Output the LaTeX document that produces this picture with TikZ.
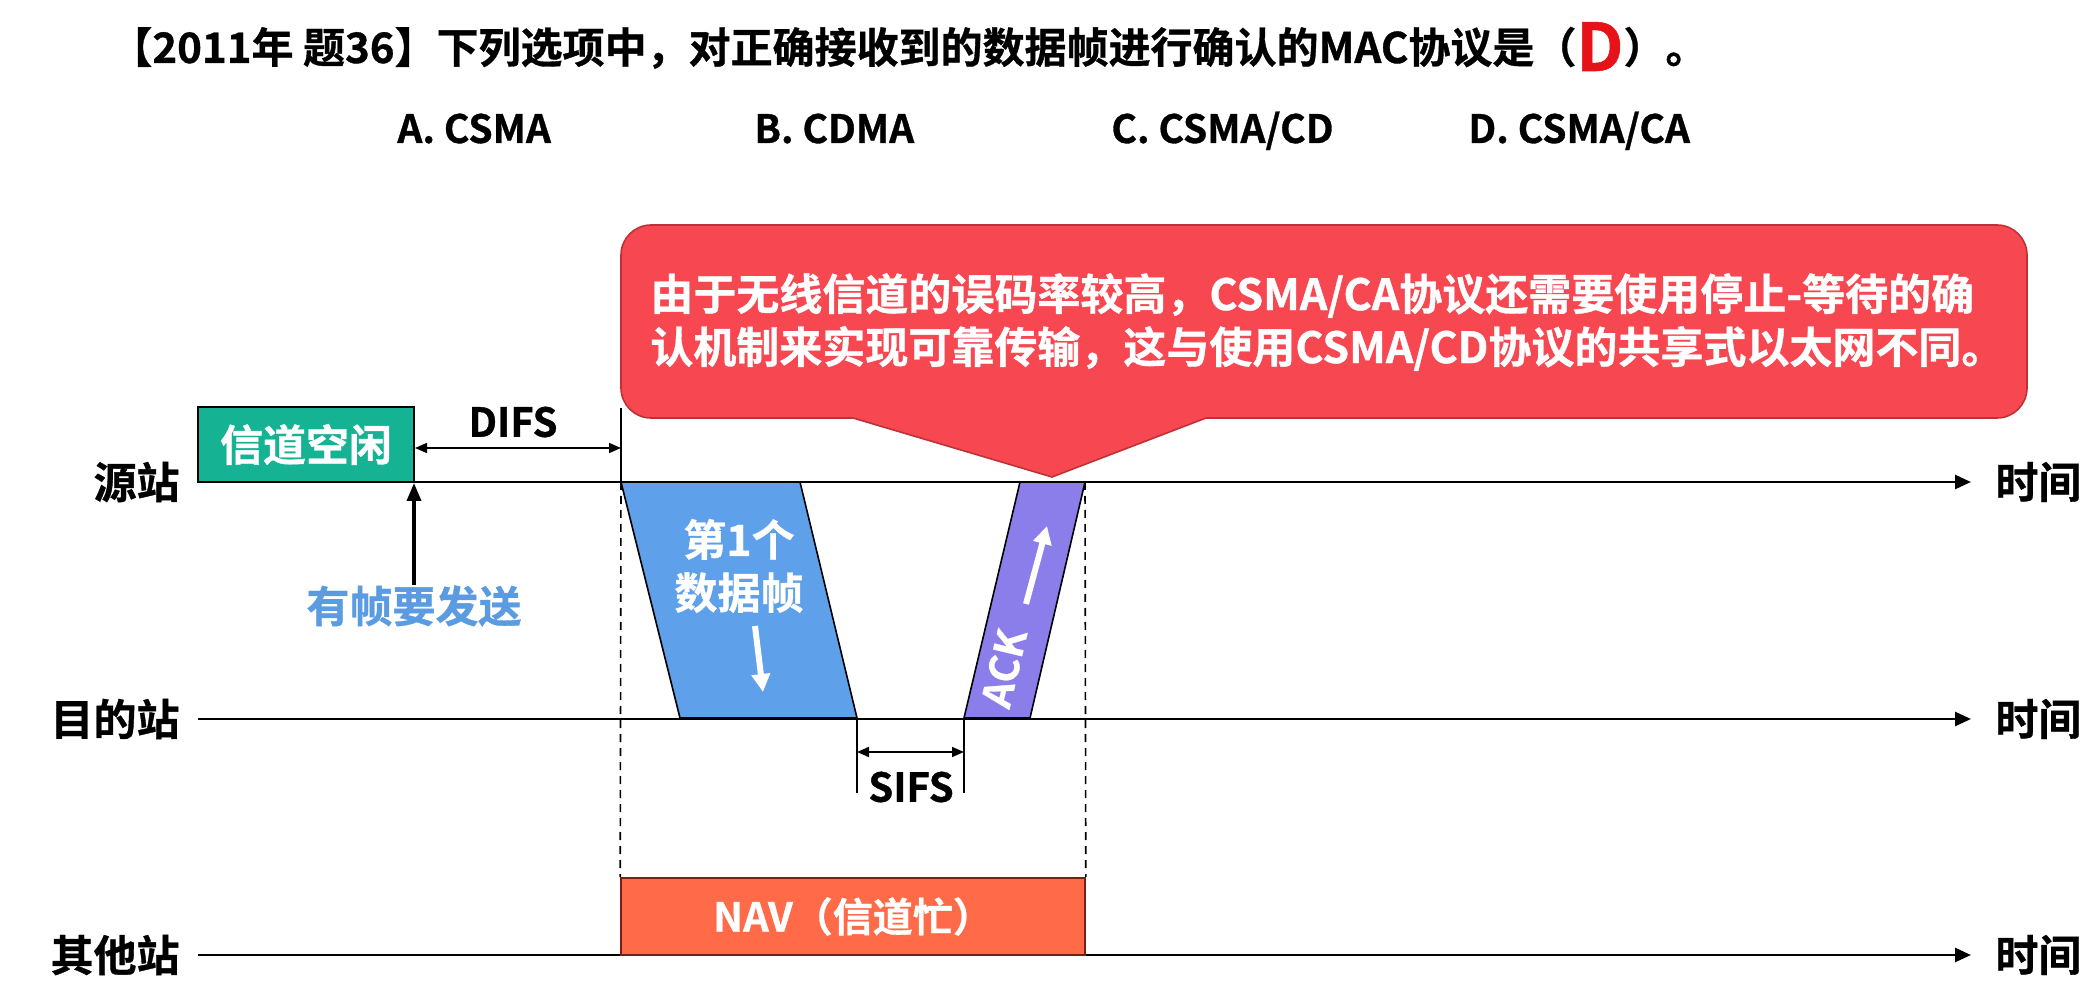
\documentclass[tikz,border=0pt]{standalone}
\usepackage{fontspec}
\setmainfont{Noto Sans CJK SC}[BoldFont={Noto Sans CJK SC Bold},BoldFeatures={FakeBold=0.8}]
\usetikzlibrary{arrows.meta}
\definecolor{idlegreen}{RGB}{22,178,148}
\definecolor{sendblue}{RGB}{90,155,225}
\definecolor{datablue}{RGB}{94,160,234}
\definecolor{ackpurple}{RGB}{140,126,234}
\definecolor{notered}{RGB}{247,72,82}
\definecolor{noteedge}{RGB}{190,50,55}
\definecolor{navorange}{RGB}{255,106,72}
\definecolor{navedge}{RGB}{120,30,20}
\definecolor{answerred}{RGB}{230,18,24}

\begin{document}
\begin{tikzpicture}[x=0.5pt,y=-0.5pt,
  axis/.style={line width=1.3pt,-{Triangle[length=8pt,width=7pt]}},
  lbl/.style={inner sep=0pt,font=\bfseries\fontsize{21.5pt}{26.5pt}\selectfont},
  lat/.style={inner sep=0pt,font=\bfseries\fontsize{20pt}{24pt}\selectfont},
  opt/.style={inner sep=0pt,anchor=base west,font=\bfseries\fontsize{19.5pt}{24pt}\selectfont},
  guide/.style={line width=0.8pt,dash pattern=on 4pt off 3pt},
  dim/.style={line width=0.8pt,{Triangle[length=6pt,width=5pt]}-{Triangle[length=6pt,width=5pt]}},
  hint/.style={white,line width=3pt,-{Triangle[length=9pt,width=9pt]}}]
\useasboundingbox (0,0) rectangle (2100,1005);
\def\dataframe{(621,482) -- (800,482) -- (857,718) -- (680,718) -- cycle}
\def\ackframe{(964,718) -- (1030,718) -- (1085,482) -- (1020,482) -- cycle}

% question
\node[opt,font=\bfseries\fontsize{21pt}{25pt}\selectfont] (title) at (110,63)
  {【2011年 题36】下列选项中，对正确接收到的数据帧进行确认的MAC协议是（{\color{answerred}\raisebox{-4pt}{\fontsize{33pt}{33pt}\selectfont D}}）。};
\node[opt] (optA) at (397,143) {A. CSMA};
\node[opt] (optB) at (754,143) {B. CDMA};
\node[opt] (optC) at (1111,143) {C. CSMA/CD};
\node[opt] (optD) at (1468,143) {D. CSMA/CA};

% frames
\filldraw[fill=datablue,line width=0.8pt] \dataframe;
\filldraw[fill=ackpurple,line width=0.8pt] \ackframe;
\node[lbl,text=white,align=center] (datatxt) at (739,566) {第1个\\数据帧};
\coordinate (dh0) at (755,626);
\coordinate (dh1) at (763,692);
\draw[hint] (dh0) -- (dh1);
\node[lat,text=white,rotate=76.6] (acktxt) at (1004,668) {ACK};
\coordinate (ah0) at (1026,604);
\coordinate (ah1) at (1047,526);
\draw[hint] (ah0) -- (ah1);

% time lines
\coordinate (src0) at (198,482);
\coordinate (src1) at (1971,482);
\coordinate (dst0) at (198,719);
\coordinate (dst1) at (1971,719);
\coordinate (oth0) at (198,955);
\coordinate (oth1) at (1971,955);
\draw[axis] (src0) -- (src1);
\draw[axis] (dst0) -- (dst1);
\draw[axis] (oth0) -- (oth1);
\node[lbl,anchor=east] (srcname) at (180,482) {源站};
\node[lbl,anchor=east] (dstname) at (180,719) {目的站};
\node[lbl,anchor=east] (othname) at (180,955) {其他站};
\node[lbl,anchor=west] (srctime) at (1995,482) {时间};
\node[lbl,anchor=west] (dsttime) at (1995,719) {时间};
\node[lbl,anchor=west] (othtime) at (1995,955) {时间};

% idle + DIFS
\node[lbl,draw,line width=1pt,fill=idlegreen,text=white,minimum width=108pt,minimum height=37.5pt] (idle) at (306,444.5) {信道空闲};
\node[lbl,text=sendblue] (send) at (414,606) {有帧要发送};
\draw[line width=1.8pt,-{Triangle[length=9pt,width=7pt]}] (send.north) -- (send.north |- idle.south);
\coordinate (t1top) at (621,408);
\coordinate (t1) at (621,482);
\coordinate (t2) at (1085,482);
\coordinate (difsR) at (621,448);
\draw[line width=0.8pt] (t1top) -- (t1);
\draw[dim] (idle.east |- difsR) -- (difsR);
\node[lat] (difs) at (513,422) {DIFS};

% SIFS
\coordinate (sf0) at (857,719);
\coordinate (sf0b) at (857,793);
\coordinate (sf1) at (964,719);
\coordinate (sf1b) at (964,793);
\draw[line width=0.8pt] (sf0) -- (sf0b);
\draw[line width=0.8pt] (sf1) -- (sf1b);
\draw[dim] (sf0 |- 0,752) -- (sf1 |- 0,752);
\node[lat] (sifs) at (911,787) {SIFS};

% NAV
\node[lat,draw=navedge,line width=0.8pt,fill=navorange,text=white,minimum width=232pt,minimum height=38.5pt] (nav) at (853,916.5) {NAV（信道忙）};
\draw[guide] (t1) -- (nav.north west);
\draw[guide] (t2) -- (nav.north east);

% callout
\coordinate (pl) at (853,418);
\coordinate (pr) at (1206,418);
\coordinate (tip) at (1052,477);
\filldraw[draw=noteedge,fill=notered,line width=0.8pt] (700,418) -- (pl) -- (tip) -- (pr) -- (1400,418)
  [rounded corners=15pt] -- (2027,418) -- (2027,225) -- (621,225) -- (621,418) -- cycle;
\node[lbl,text=white,anchor=west,align=left] (note) at (650,322)
  {由于无线信道的误码率较高，CSMA/CA协议还需要使用停止-等待的确\\认机制来实现可靠传输，这与使用CSMA/CD协议的共享式以太网不同。};
\end{tikzpicture}
\end{document}
